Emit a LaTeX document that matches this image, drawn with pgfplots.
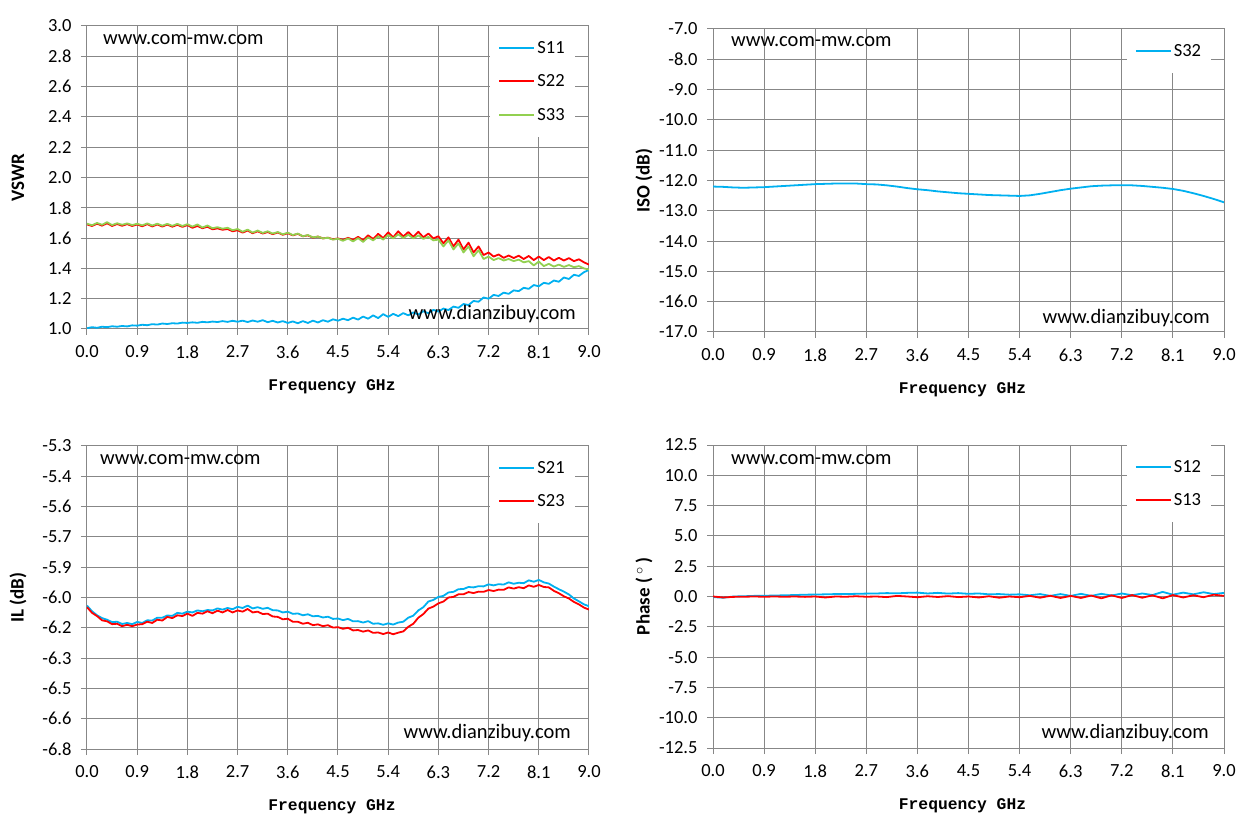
\documentclass[border=0pt]{standalone}
\usepackage{fontspec}
\setmainfont{Carlito}
\newfontfamily\freqfont{Liberation Mono}
\usepackage{pgfplots}
\pgfplotsset{compat=1.18}
\usepackage{pgfplotstable}
\definecolor{cblue}{HTML}{00B0F0}
\definecolor{cred}{HTML}{FF0000}
\definecolor{cgreen}{HTML}{92D050}
\definecolor{gridgray}{HTML}{878787}

\pgfplotstableread{
x s11 s22 s33
0.00 1.005 1.690 1.695
0.09 1.012 1.680 1.685
0.18 1.008 1.695 1.700
0.27 1.015 1.682 1.688
0.36 1.012 1.698 1.705
0.45 1.018 1.680 1.686
0.54 1.015 1.693 1.698
0.63 1.020 1.681 1.688
0.72 1.017 1.692 1.697
0.81 1.024 1.680 1.686
0.90 1.022 1.690 1.695
0.99 1.028 1.678 1.684
1.08 1.025 1.692 1.697
1.17 1.032 1.677 1.683
1.26 1.029 1.690 1.695
1.35 1.036 1.676 1.682
1.44 1.033 1.689 1.694
1.53 1.038 1.675 1.681
1.62 1.036 1.688 1.694
1.71 1.042 1.674 1.680
1.80 1.040 1.686 1.692
1.89 1.044 1.668 1.676
1.98 1.041 1.680 1.690
2.07 1.047 1.665 1.670
2.16 1.044 1.675 1.683
2.25 1.049 1.658 1.665
2.34 1.046 1.664 1.672
2.43 1.052 1.655 1.662
2.52 1.047 1.660 1.668
2.61 1.054 1.645 1.652
2.70 1.048 1.652 1.660
2.79 1.055 1.636 1.642
2.88 1.046 1.650 1.656
2.97 1.056 1.632 1.636
3.06 1.048 1.645 1.650
3.15 1.058 1.630 1.634
3.24 1.045 1.640 1.645
3.33 1.054 1.626 1.630
3.42 1.043 1.637 1.640
3.51 1.052 1.622 1.625
3.60 1.040 1.632 1.636
3.69 1.050 1.618 1.620
3.78 1.038 1.628 1.630
3.87 1.052 1.612 1.612
3.96 1.040 1.618 1.620
4.05 1.055 1.603 1.605
4.14 1.043 1.610 1.610
4.23 1.058 1.598 1.598
4.32 1.048 1.603 1.602
4.41 1.064 1.592 1.590
4.50 1.055 1.598 1.596
4.59 1.068 1.588 1.582
4.68 1.058 1.602 1.598
4.77 1.075 1.588 1.578
4.86 1.062 1.608 1.600
4.95 1.082 1.586 1.575
5.04 1.068 1.618 1.605
5.13 1.090 1.594 1.585
5.22 1.072 1.628 1.612
5.31 1.098 1.600 1.590
5.40 1.080 1.638 1.620
5.49 1.100 1.605 1.598
5.58 1.085 1.645 1.625
5.67 1.105 1.610 1.600
5.76 1.090 1.640 1.622
5.85 1.110 1.608 1.598
5.94 1.095 1.642 1.618
6.03 1.118 1.605 1.595
6.12 1.104 1.630 1.608
6.21 1.126 1.598 1.585
6.30 1.115 1.612 1.590
6.39 1.135 1.565 1.545
6.48 1.125 1.605 1.585
6.57 1.148 1.545 1.525
6.66 1.140 1.590 1.565
6.75 1.165 1.525 1.505
6.84 1.158 1.570 1.545
6.93 1.185 1.505 1.480
7.02 1.180 1.545 1.520
7.11 1.208 1.488 1.462
7.20 1.200 1.505 1.478
7.29 1.225 1.478 1.455
7.38 1.218 1.492 1.468
7.47 1.240 1.470 1.452
7.56 1.232 1.485 1.462
7.65 1.255 1.468 1.448
7.74 1.250 1.484 1.458
7.83 1.272 1.462 1.440
7.92 1.265 1.482 1.448
8.01 1.290 1.455 1.420
8.10 1.282 1.478 1.445
8.19 1.305 1.455 1.415
8.28 1.298 1.475 1.430
8.37 1.320 1.452 1.412
8.46 1.312 1.470 1.425
8.55 1.340 1.452 1.410
8.64 1.330 1.468 1.422
8.73 1.358 1.448 1.408
8.82 1.350 1.460 1.415
8.91 1.375 1.440 1.400
9.00 1.390 1.425 1.392
}\vswr

\pgfplotstableread{
x s32
0.00 -12.20
0.18 -12.21
0.36 -12.23
0.54 -12.24
0.72 -12.23
0.90 -12.22
1.08 -12.20
1.26 -12.18
1.44 -12.16
1.62 -12.14
1.80 -12.12
1.98 -12.11
2.16 -12.10
2.34 -12.10
2.52 -12.10
2.70 -12.12
2.88 -12.13
3.06 -12.16
3.24 -12.20
3.42 -12.25
3.60 -12.29
3.78 -12.32
3.96 -12.36
4.14 -12.39
4.32 -12.42
4.50 -12.44
4.68 -12.46
4.86 -12.48
5.04 -12.49
5.22 -12.50
5.40 -12.51
5.58 -12.49
5.76 -12.44
5.94 -12.38
6.12 -12.32
6.30 -12.27
6.48 -12.23
6.66 -12.19
6.84 -12.17
7.02 -12.16
7.20 -12.16
7.38 -12.16
7.56 -12.18
7.74 -12.21
7.92 -12.24
8.10 -12.28
8.28 -12.34
8.46 -12.42
8.64 -12.51
8.82 -12.61
9.00 -12.72
}\iso

\pgfplotstableread{
x s21 s23
0.00 -6.090 -6.098
0.09 -6.118 -6.126
0.18 -6.138 -6.142
0.27 -6.152 -6.163
0.36 -6.160 -6.168
0.45 -6.172 -6.182
0.54 -6.170 -6.180
0.63 -6.181 -6.192
0.72 -6.176 -6.185
0.81 -6.182 -6.192
0.90 -6.171 -6.184
0.99 -6.176 -6.182
1.08 -6.163 -6.170
1.17 -6.164 -6.176
1.26 -6.150 -6.160
1.35 -6.150 -6.164
1.44 -6.139 -6.146
1.53 -6.141 -6.152
1.62 -6.126 -6.138
1.71 -6.130 -6.142
1.80 -6.120 -6.130
1.89 -6.124 -6.141
1.98 -6.114 -6.126
2.07 -6.118 -6.130
2.16 -6.112 -6.118
2.25 -6.114 -6.128
2.34 -6.104 -6.115
2.43 -6.110 -6.124
2.52 -6.102 -6.112
2.61 -6.108 -6.124
2.70 -6.096 -6.114
2.79 -6.102 -6.120
2.88 -6.090 -6.107
2.97 -6.104 -6.124
3.06 -6.098 -6.120
3.15 -6.106 -6.132
3.24 -6.101 -6.130
3.33 -6.113 -6.144
3.42 -6.114 -6.146
3.51 -6.124 -6.158
3.60 -6.120 -6.155
3.69 -6.131 -6.170
3.78 -6.129 -6.170
3.87 -6.138 -6.180
3.96 -6.133 -6.175
4.05 -6.143 -6.187
4.14 -6.141 -6.183
4.23 -6.149 -6.192
4.32 -6.145 -6.187
4.41 -6.156 -6.199
4.50 -6.154 -6.197
4.59 -6.162 -6.205
4.68 -6.156 -6.200
4.77 -6.168 -6.213
4.86 -6.167 -6.211
4.95 -6.174 -6.219
5.04 -6.167 -6.213
5.13 -6.180 -6.225
5.22 -6.178 -6.223
5.31 -6.185 -6.231
5.40 -6.178 -6.223
5.49 -6.184 -6.232
5.58 -6.174 -6.224
5.67 -6.170 -6.218
5.76 -6.150 -6.195
5.85 -6.140 -6.180
5.94 -6.114 -6.150
6.03 -6.098 -6.132
6.12 -6.070 -6.105
6.21 -6.062 -6.095
6.30 -6.047 -6.079
6.39 -6.042 -6.070
6.48 -6.025 -6.050
6.57 -6.022 -6.047
6.66 -6.009 -6.034
6.75 -6.008 -6.034
6.84 -5.998 -6.023
6.93 -6.000 -6.028
7.02 -5.994 -6.021
7.11 -5.995 -6.022
7.20 -5.985 -6.013
7.29 -5.990 -6.018
7.38 -5.984 -6.011
7.47 -5.986 -6.012
7.56 -5.975 -6.000
7.65 -5.982 -6.006
7.74 -5.977 -5.999
7.83 -5.979 -6.004
7.92 -5.965 -5.990
8.01 -5.972 -5.997
8.10 -5.963 -5.988
8.19 -5.975 -5.998
8.28 -5.981 -6.000
8.37 -5.996 -6.017
8.46 -6.009 -6.029
8.55 -6.021 -6.044
8.64 -6.035 -6.055
8.73 -6.055 -6.072
8.82 -6.069 -6.084
8.91 -6.084 -6.100
9.00 -6.093 -6.110
}\il

\pgfplotstableread{
x s12 s13
0.00 -0.05 0.00
0.18 -0.10 -0.08
0.36 0.00 -0.03
0.54 0.02 -0.02
0.72 0.05 0.00
0.90 0.06 -0.02
1.08 0.08 0.00
1.26 0.10 -0.02
1.44 0.12 0.00
1.62 0.15 -0.03
1.80 0.16 0.00
1.98 0.18 -0.08
2.16 0.20 0.00
2.34 0.20 -0.02
2.52 0.22 0.02
2.70 0.24 -0.02
2.88 0.25 0.00
3.06 0.28 -0.05
3.24 0.26 0.05
3.42 0.30 0.00
3.60 0.32 -0.06
3.78 0.25 0.02
3.96 0.30 -0.04
4.14 0.24 0.03
4.32 0.28 -0.05
4.50 0.22 0.00
4.68 0.25 -0.08
4.86 0.18 0.02
5.04 0.20 -0.10
5.22 0.15 0.00
5.40 0.18 -0.06
5.58 0.10 0.05
5.76 0.20 -0.10
5.94 0.05 0.06
6.12 0.20 -0.12
6.30 0.05 0.05
6.48 0.22 -0.12
6.66 0.05 0.08
6.84 0.22 -0.15
7.02 0.08 0.10
7.20 0.25 -0.12
7.38 0.10 0.12
7.56 0.25 -0.10
7.74 0.12 0.10
7.92 0.38 -0.15
8.10 0.15 0.12
8.28 0.32 -0.08
8.46 0.18 0.10
8.64 0.35 -0.06
8.82 0.20 0.15
9.00 0.30 0.05
}\phase

\newcommand{\tickfont}{\fontsize{18.5}{20}\selectfont}
\newcommand{\wmfont}{\fontsize{20.5}{22}\selectfont}

\pgfplotsset{
  panel/.style={
    scale only axis, height=303pt,
    xmin=0, xmax=9,
    xtick={0,0.9,1.8,2.7,3.6,4.5,5.4,6.3,7.2,8.1,9},
    grid=major,
    major grid style={draw=gridgray, line width=1pt},
    axis line style={draw=gridgray, line width=1pt},
    tick style={draw=gridgray, line width=1pt},
    tick align=outside, major tick length=6pt, tick pos=left,
    ticklabel style={font=\tickfont},
    /pgf/number format/assume math mode=true,
    xticklabel style={yshift=-7pt, /pgf/number format/.cd, fixed, fixed zerofill, precision=1},
    yticklabel style={xshift=-6pt, /pgf/number format/.cd, fixed, fixed zerofill, precision=1},
    every axis y label/.style={at={(axis description cs:0,0.5)}, xshift=-69pt, rotate=90, anchor=center, font=\fontsize{19}{21}\selectfont\bfseries},
    every axis x label/.style={at={(axis description cs:0.5,0)}, xshift=-6pt, yshift=-58pt, anchor=center, font=\fontsize{16.3}{18}\selectfont\freqfont\bfseries},
    xlabel={Frequency GHz},
    legend image code/.code={\draw[#1, line width=2pt, line cap=butt] (0pt,0pt) -- (35pt,0pt);},
    legend style={draw=none, fill=white, font=\tickfont, row sep=16pt, inner xsep=8pt, inner ysep=13pt, anchor=north east, cells={anchor=west}, nodes={inner sep=2pt}},
    every axis plot/.append style={line width=1.8pt, line join=round},
  }
}

\begin{document}
\begin{tikzpicture}
\path[use as bounding box] (0,0) rectangle (1253pt,833pt);

% Panel 1: VSWR
\begin{axis}[panel, at={(87pt,504pt)}, anchor=south west, width=502pt,
  ymin=1, ymax=3, ytick={1,1.2,...,3.01}, ylabel={VSWR},
  legend style={at={(0.972,1)}}]
\addplot[cblue] table[x=x,y=s11] {\vswr};
\addplot[cred] table[x=x,y=s22] {\vswr};
\addplot[cgreen] table[x=x,y=s33] {\vswr};
\legend{S11,S22,S33}
\node[anchor=west, font=\wmfont, inner sep=0pt] at ([xshift=16pt,yshift=-14pt]rel axis cs:0,1) {www.com-mw.com};
\node[anchor=east, font=\wmfont, inner sep=0pt] at ([xshift=-13pt,yshift=15pt]rel axis cs:1,0) {www.dianzibuy.com};
\end{axis}

% Panel 2: ISO
\begin{axis}[panel, at={(713pt,501pt)}, anchor=south west, width=511pt,
  ymin=-17, ymax=-7, ytick={-17,-16,...,-7}, ylabel={ISO (dB)},
  legend style={at={(0.975,1)}}]
\addplot[cblue] table[x=x,y=s32] {\iso};
\legend{S32}
\node[anchor=west, font=\wmfont, inner sep=0pt] at ([xshift=18pt,yshift=-13pt]rel axis cs:0,1) {www.com-mw.com};
\node[anchor=east, font=\wmfont, inner sep=0pt] at ([xshift=-14pt,yshift=14pt]rel axis cs:1,0) {www.dianzibuy.com};
\end{axis}

% Panel 3: IL
\begin{axis}[panel, at={(87pt,84pt)}, anchor=south west, width=502pt,
  ymin=-6.8, ymax=-5.3,
  ytick={-6.8,-6.65,-6.5,-6.35,-6.2,-6.05,-5.9,-5.75,-5.6,-5.45,-5.3},
  yticklabels={-6.8,-6.6,-6.5,-6.3,-6.2,-6.0,-5.9,-5.7,-5.6,-5.4,-5.3},
  ylabel={IL (dB)},
  legend style={at={(0.972,1)}}]
\addplot[cblue] table[x=x,y=s21] {\il};
\addplot[cred] table[x=x,y=s23] {\il};
\legend{S21,S23}
\node[anchor=west, font=\wmfont, inner sep=0pt] at ([xshift=13pt,yshift=-14pt]rel axis cs:0,1) {www.com-mw.com};
\node[anchor=east, font=\wmfont, inner sep=0pt] at ([xshift=-18pt,yshift=16pt]rel axis cs:1,0) {www.dianzibuy.com};
\end{axis}

% Panel 4: Phase
\begin{axis}[panel, at={(713pt,85pt)}, anchor=south west, width=511pt,
  ymin=-12.5, ymax=12.5, ytick={-12.5,-10,...,12.5}, ylabel={Phase (\,$^{\circ}$\,)},
  legend style={at={(0.975,1)}}]
\addplot[cblue] table[x=x,y=s12] {\phase};
\addplot[cred] table[x=x,y=s13] {\phase};
\legend{S12,S13}
\node[anchor=west, font=\wmfont, inner sep=0pt] at ([xshift=18pt,yshift=-15pt]rel axis cs:0,1) {www.com-mw.com};
\node[anchor=east, font=\wmfont, inner sep=0pt] at ([xshift=-15pt,yshift=15pt]rel axis cs:1,0) {www.dianzibuy.com};
\end{axis}
\end{tikzpicture}
\end{document}
